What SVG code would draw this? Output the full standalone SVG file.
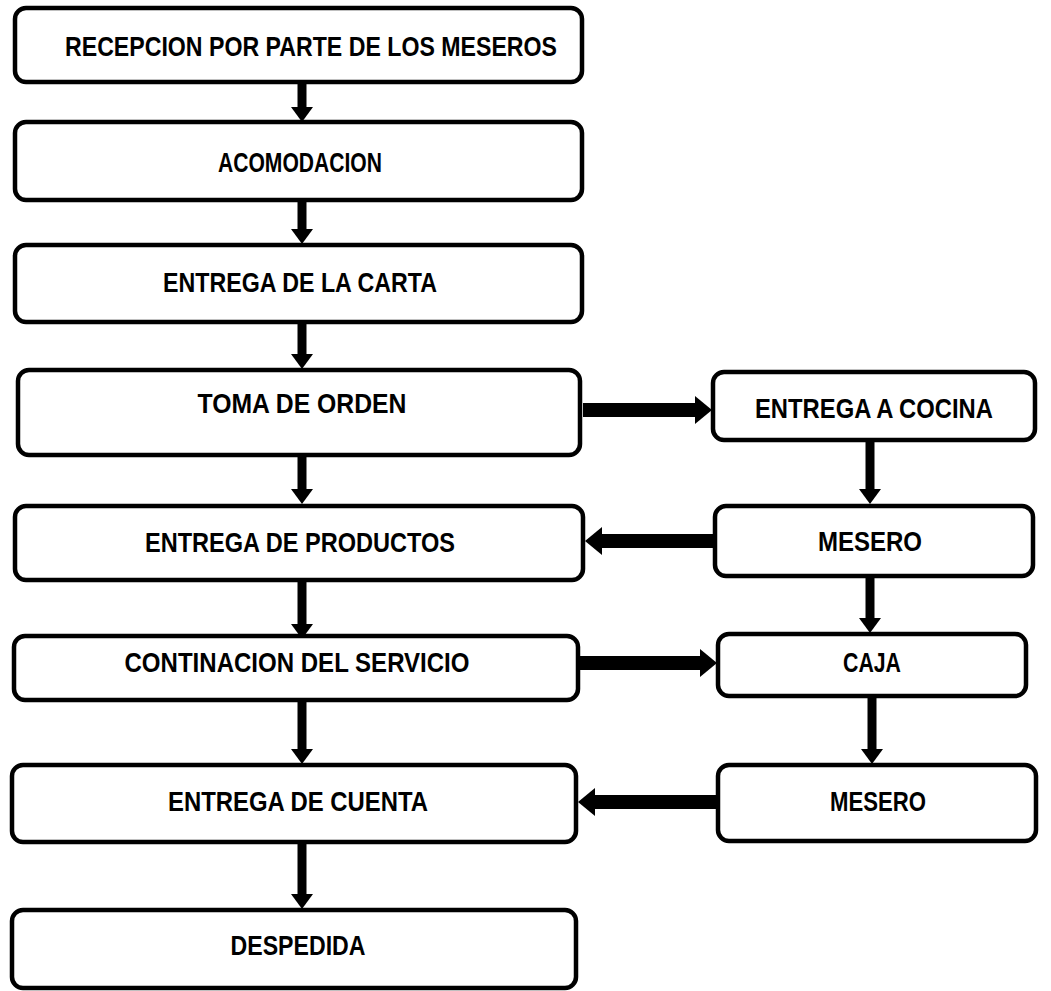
<svg xmlns="http://www.w3.org/2000/svg" width="1051" height="991" viewBox="0 0 1051 991">
<style>
.box{fill:#fff;stroke:#000;stroke-width:4.5}
.t{font-family:"Liberation Sans",Arial,sans-serif;font-weight:bold;font-size:28px;fill:#000;text-anchor:middle;dominant-baseline:central}
.v{stroke:#000;stroke-width:9;fill:none}
.h{stroke:#000;stroke-width:14;fill:none}
</style>
<defs>
<marker id="vh" viewBox="0 -11 15 22" markerWidth="15" markerHeight="22" refX="0" refY="0" orient="auto" markerUnits="userSpaceOnUse"><path d="M0,-11L15,0L0,11z" fill="#000"/></marker>
<marker id="hh" viewBox="0 -14 17 28" markerWidth="17" markerHeight="28" refX="0" refY="0" orient="auto" markerUnits="userSpaceOnUse"><path d="M0,-14L17,0L0,14z" fill="#000"/></marker>
</defs>
<rect width="1051" height="991" fill="#fff"/>
<g id="connectors">
<path class="v" d="M302,82V107" marker-end="url(#vh)"/>
<path class="v" d="M302,200V229" marker-end="url(#vh)"/>
<path class="v" d="M302,322V354" marker-end="url(#vh)"/>
<path class="v" d="M302,455V489" marker-end="url(#vh)"/>
<path class="v" d="M302,580V624" marker-end="url(#vh)"/>
<path class="v" d="M302,700V749" marker-end="url(#vh)"/>
<path class="v" d="M302,842V894" marker-end="url(#vh)"/>
<path class="v" d="M870,440V489" marker-end="url(#vh)"/>
<path class="v" d="M870,576V618" marker-end="url(#vh)"/>
<path class="v" d="M872,696V749" marker-end="url(#vh)"/>
<path class="h" d="M583,410H695" marker-end="url(#hh)"/>
<path class="h" d="M714,541H602" marker-end="url(#hh)"/>
<path class="h" d="M578,663H700" marker-end="url(#hh)"/>
<path class="h" d="M718,802H595" marker-end="url(#hh)"/>
</g>
<g id="n1"><rect class="box" x="15" y="8" width="567" height="74" rx="11"/><text class="t" x="311" y="46" textLength="492" lengthAdjust="spacingAndGlyphs">RECEPCION POR PARTE DE LOS MESEROS</text></g>
<g id="n2"><rect class="box" x="15" y="122" width="567" height="78" rx="11"/><text class="t" x="300" y="162" textLength="164" lengthAdjust="spacingAndGlyphs">ACOMODACION</text></g>
<g id="n3"><rect class="box" x="15" y="245" width="567" height="77" rx="11"/><text class="t" x="300" y="282" textLength="274" lengthAdjust="spacingAndGlyphs">ENTREGA DE LA CARTA</text></g>
<g id="n4"><rect class="box" x="18" y="370" width="562" height="85" rx="11"/><text class="t" x="302" y="403" textLength="209" lengthAdjust="spacingAndGlyphs">TOMA DE ORDEN</text></g>
<g id="n5"><rect class="box" x="713" y="372" width="322" height="68" rx="11"/><text class="t" x="874" y="408" textLength="238" lengthAdjust="spacingAndGlyphs">ENTREGA A COCINA</text></g>
<g id="n6"><rect class="box" x="715" y="506" width="318" height="70" rx="11"/><text class="t" x="870" y="541" textLength="104" lengthAdjust="spacingAndGlyphs">MESERO</text></g>
<g id="n7"><rect class="box" x="15" y="506" width="568" height="74" rx="11"/><text class="t" x="300" y="542" textLength="310" lengthAdjust="spacingAndGlyphs">ENTREGA DE PRODUCTOS</text></g>
<g id="n8"><rect class="box" x="14" y="636" width="564" height="64" rx="11"/><text class="t" x="297" y="662" textLength="345" lengthAdjust="spacingAndGlyphs">CONTINACION DEL SERVICIO</text></g>
<g id="n9"><rect class="box" x="718" y="634" width="308" height="62" rx="11"/><text class="t" x="872" y="662" textLength="58" lengthAdjust="spacingAndGlyphs">CAJA</text></g>
<g id="n10"><rect class="box" x="718" y="765" width="318" height="76" rx="11"/><text class="t" x="878" y="801" textLength="96" lengthAdjust="spacingAndGlyphs">MESERO</text></g>
<g id="n11"><rect class="box" x="12" y="765" width="564" height="77" rx="11"/><text class="t" x="298" y="801" textLength="260" lengthAdjust="spacingAndGlyphs">ENTREGA DE CUENTA</text></g>
<g id="n12"><rect class="box" x="12" y="910" width="564" height="78" rx="11"/><text class="t" x="298" y="945" textLength="135" lengthAdjust="spacingAndGlyphs">DESPEDIDA</text></g>
</svg>
